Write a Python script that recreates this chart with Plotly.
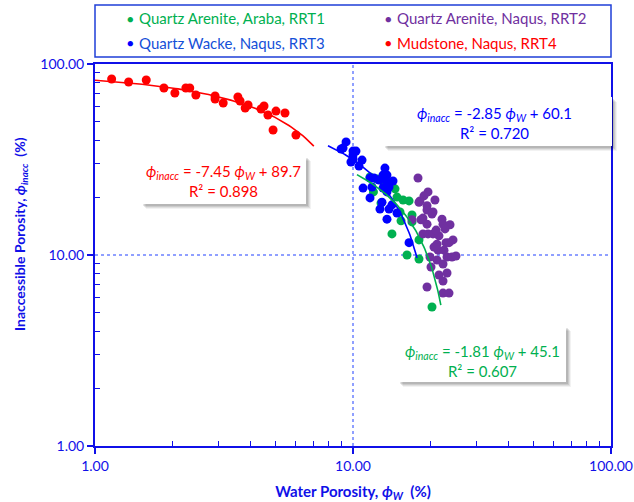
import numpy as np
import plotly.graph_objects as go

# ---------------- data ----------------
rrt1_x = [11.64, 12.39, 13.19, 14.55, 12.84, 14.81, 15.63, 16.49, 15.21, 15.35,
          16.93, 16.93, 14.16, 18.02, 16.19, 18.02, 20.24, 12.0]
rrt1_y = [25.6, 25.0, 23.0, 22.2, 18.7, 20.1, 19.4, 19.2, 16.8, 15.1,
          16.2, 14.9, 12.9, 12.0, 10.0, 9.53, 5.34, 21.4]

rrt2_x = [17.86, 19.53, 18.84, 18.18, 18.02, 20.78, 19.36, 19.36, 20.42, 20.24,
          18.67, 18.34, 16.93, 22.13, 19.36, 22.33, 23.77, 22.73, 18.67, 19.53,
          20.42, 21.54, 24.41, 21.16, 22.93, 21.35, 23.56, 19.88, 21.16, 23.14,
          24.19, 22.33, 20.06, 21.54, 23.14, 22.33, 19.36, 22.33, 23.56, 25.07,
          22.53, 21.0, 20.6]
rrt2_y = [25.3, 21.4, 20.4, 19.2, 18.9, 19.4, 18.1, 17.2, 16.8, 16.4,
          15.6, 15.3, 15.3, 15.4, 14.5, 14.5, 14.4, 13.7, 12.9, 12.9,
          12.9, 12.6, 12.0, 11.4, 11.6, 10.6, 11.6, 9.76, 9.41, 9.76,
          9.76, 8.97, 8.65, 7.86, 8.05, 7.31, 6.80, 6.32, 6.32, 9.88,
          10.6, 13.5, 11.0]

rrt3_x = [9.40, 9.15, 8.99, 10.0, 10.0, 10.0, 10.84, 9.82, 10.55, 13.30,
          11.64, 12.06, 12.61, 10.94, 11.85, 13.07, 11.64, 12.95, 13.54, 13.07,
          13.54, 13.42, 13.79, 14.29, 12.72, 13.79, 14.16, 13.54, 14.81, 16.49,
          10.27]
rrt3_y = [39.1, 36.3, 35.9, 35.0, 33.4, 31.8, 31.4, 30.7, 29.2, 28.5,
          25.3, 25.3, 24.7, 22.4, 22.7, 22.4, 19.9, 18.9, 21.4, 26.2,
          26.2, 24.4, 22.7, 24.4, 17.4, 17.4, 18.3, 15.4, 16.6, 11.6,
          35.0]

rrt4_x = [1.16, 1.35, 1.58, 1.85, 2.04, 2.25, 2.33, 2.46, 2.92, 2.92,
          3.14, 3.58, 3.65, 3.82, 3.92, 4.40, 4.52, 4.68, 5.03, 5.45,
          4.90, 6.01]
rrt4_y = [83.5, 80.5, 82.5, 74.9, 70.5, 74.9, 74.9, 68.8, 68.0, 65.6,
          62.5, 67.2, 64.0, 58.8, 61.0, 58.1, 60.3, 54.1, 56.7, 55.4,
          45.1, 42.5]

series_names = ["Quartz Arenite, Araba, RRT1", "Quartz Arenite, Naqus, RRT2",
                "Quartz Wacke, Naqus, RRT3", "Mudstone, Naqus, RRT4"]

# linear trend lines shown on the chart: slope, intercept, x-range, R^2
fit_rrt1 = dict(slope=-1.81, intercept=45.1, x0=10.36, x1=21.9, r2="0.607")
fit_rrt3 = dict(slope=-2.85, intercept=60.1, x0=8.0, x1=17.7, r2="0.720")
fit_rrt4 = dict(slope=-7.45, intercept=89.7, x0=1.0, x1=7.05, r2="0.898")

tick_vals = [1, 10, 100]
tick_text = ["1.00", "10.00", "100.00"]
minor_vals = [2, 3, 4, 5, 6, 7, 8, 9, 20, 30, 40, 50, 60, 70, 80, 90]

# ---------------- styling ----------------
GREEN = "#00B050"
PURPLE = "#7030A0"
BLUE = "#0000FF"
RED = "#FF0000"
AXIS = "#1010E8"
GRID = "#2040FF"
FONT = "Lato"
PHI = "ϕ"

W, H = 634, 502
ML, MR, MT, MB = 95, 23, 64, 56
PW, PH = W - ML - MR, H - MT - MB


def px2paper(px, py):
    return (px - ML) / PW, (H - MB - py) / PH


fig = go.Figure()

shapes = []
annotations = []

# dotted major gridlines (inner major tick only; outer ones coincide with the frame)
for v in tick_vals[1:-1]:
    shapes.append(dict(type="line", xref="x", yref="paper", x0=v, x1=v, y0=0, y1=1,
                       line=dict(color=GRID, width=1, dash="dot"), layer="below"))
    shapes.append(dict(type="line", xref="paper", yref="y", x0=0, x1=1, y0=v, y1=v,
                       line=dict(color=GRID, width=1, dash="dot"), layer="below"))

for xs, ys, col, nm in [(rrt1_x, rrt1_y, GREEN, series_names[0]),
                        (rrt2_x, rrt2_y, PURPLE, series_names[1]),
                        (rrt3_x, rrt3_y, BLUE, series_names[2]),
                        (rrt4_x, rrt4_y, RED, series_names[3])]:
    fig.add_trace(go.Scatter(x=xs, y=ys, mode="markers", name=nm,
                             marker=dict(color=col, size=9, line=dict(width=0)),
                             showlegend=False))

for fit, col in [(fit_rrt4, RED), (fit_rrt3, BLUE), (fit_rrt1, GREEN)]:
    xx = np.geomspace(fit["x0"], fit["x1"], 80)
    yy = fit["slope"] * xx + fit["intercept"]
    fig.add_trace(go.Scatter(x=xx, y=yy, mode="lines", showlegend=False,
                             line=dict(color=col, width=1.6), hoverinfo="skip"))

# ---------- manual legend box ----------
lx0, ly0 = px2paper(95, 57)
lx1, ly1 = px2paper(611, 5)
shapes.append(dict(type="rect", xref="paper", yref="paper", x0=lx0, y0=ly0, x1=lx1, y1=ly1,
                   line=dict(color="#1f3fd8", width=1.5), fillcolor="white", layer="above"))
legend_items = [(series_names[0], GREEN, GREEN, 130, 18),
                (series_names[1], PURPLE, PURPLE, 388, 18),
                (series_names[2], BLUE, "#1450d8", 130, 43),
                (series_names[3], RED, RED, 388, 43)]
for nm, mcol, tcol, mx, my in legend_items:
    ax_, ay_ = px2paper(mx, my)
    annotations.append(dict(xref="paper", yref="paper", x=ax_, y=ay_, text="●",
                            showarrow=False, xanchor="center", yanchor="middle",
                            font=dict(family=FONT, size=11, color=mcol)))
    tx_, _ = px2paper(mx + 7, my)
    annotations.append(dict(xref="paper", yref="paper", x=tx_, y=ay_, text=nm,
                            showarrow=False, xanchor="left", yanchor="middle",
                            font=dict(family=FONT, size=15, color=tcol)))

# ---------- equation boxes ----------
eq_boxes = [(fit_rrt3, BLUE, (383, 97, 612, 146), (494, 123)),
            (fit_rrt4, RED, (141, 156, 306, 204), (223, 181)),
            (fit_rrt1, GREEN, (398, 326, 566, 382), (482, 361))]
for fit, col, (bx0, by0, bx1, by1), (cx, cy) in eq_boxes:
    for off, alpha in [(5, 0.05), (4, 0.07), (3, 0.09), (2, 0.1)]:
        sx0, sy0 = px2paper(bx0 + off, by1 + off)
        sx1, sy1 = px2paper(bx1 + off, by0 + off)
        shapes.append(dict(type="rect", xref="paper", yref="paper", x0=sx0, y0=sy0,
                           x1=sx1, y1=sy1, line=dict(width=0),
                           fillcolor=f"rgba(0,0,0,{alpha})", layer="above"))
    x0_, y0_ = px2paper(bx0, by1)
    x1_, y1_ = px2paper(bx1, by0)
    shapes.append(dict(type="rect", xref="paper", yref="paper", x0=x0_, y0=y0_,
                       x1=x1_, y1=y1_, line=dict(width=0), fillcolor="white", layer="above"))
    tx, ty = px2paper(cx, cy)
    txt = (f"<i>{PHI}<sub>inacc</sub></i> = {fit['slope']:.2f} <i>{PHI}<sub>W</sub></i> + "
           f"{fit['intercept']:.1f}<br>R² = {fit['r2']}")
    annotations.append(dict(xref="paper", yref="paper", x=tx, y=ty, text=txt,
                            showarrow=False, xanchor="center", yanchor="middle",
                            font=dict(family=FONT, size=15, color=col)))

# ---------- y axis title ----------
yx, yy_ = px2paper(20, 234)
annotations.append(dict(xref="paper", yref="paper", x=yx, y=yy_, textangle=-90,
                        text=f"<b>Inaccessible Porosity, <i>{PHI}<sub>inacc</sub></i>  (%)</b>",
                        showarrow=False, xanchor="center", yanchor="middle",
                        font=dict(family=FONT, size=14, color=AXIS)))

axis_common = dict(type="log", range=[0, 2], tickmode="array", tickvals=tick_vals,
                   ticktext=tick_text, ticks="outside", ticklen=6, tickwidth=1.5,
                   tickcolor=AXIS, showline=True, linecolor=AXIS, linewidth=2,
                   mirror=True, showgrid=False, zeroline=False, automargin=False,
                   tickfont=dict(family=FONT, size=14, color=AXIS),
                   minor=dict(tickmode="array", tickvals=minor_vals, ticks="inside",
                              ticklen=5, tickcolor=AXIS, tickwidth=1.2, showgrid=False))

fig.update_xaxes(**axis_common,
                 title=dict(text=f"<b>Water Porosity, <i>{PHI}<sub>W</sub></i>  (%)</b>",
                            font=dict(family=FONT, size=15, color=AXIS), standoff=14))
fig.update_yaxes(**axis_common)

fig.update_layout(width=W, height=H, margin=dict(l=ML, r=MR, t=MT, b=MB, autoexpand=False),
                  plot_bgcolor="white", paper_bgcolor="white",
                  shapes=shapes, annotations=annotations, showlegend=False)

fig.write_html("out.html")
